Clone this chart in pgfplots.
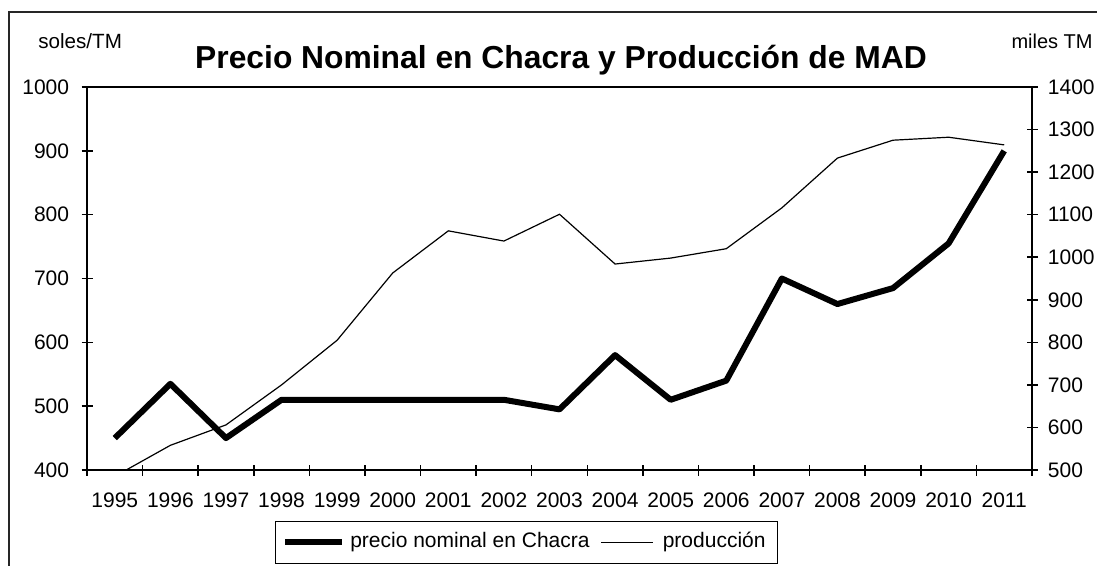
\documentclass[border=0pt]{standalone}
\usepackage{pgfplots}
\pgfplotsset{compat=1.18}
\usepackage{fontspec}
\setmainfont{Liberation Sans}

\pgfplotsset{
  legA/.style={legend image code/.code={\draw[##1] (0pt,0pt) -- (28.5pt,0pt); \path (31pt,0pt);}},
  legB/.style={legend image code/.code={\draw[##1] (0pt,0pt) -- (26pt,0pt); \path (-5.5pt,0pt) (30.5pt,0pt);}},
}

\pgfplotstableread{
x price prod
0 450 485
1 535 558
2 450 606
3 510 700
4 510 805
5 510 963
6 510 1062
7 510 1038
8 495 1101
9 580 984
10 510 998
11 540 1020
12 700 1116
13 660 1233
14 685 1275
15 755 1282
16 900 1264
}\datatable

\begin{document}
\begin{tikzpicture}
\useasboundingbox (0pt,0pt) rectangle (548.5pt,-283pt);
\draw[line width=1pt, black!85] (4.5pt,-400pt) -- (4.5pt,-6pt) -- (600pt,-6pt);
\node[font=\fontsize{15.9}{18}\selectfont\bfseries, inner sep=0pt] at (280.5pt,-30pt) {Precio Nominal en Chacra y Producción de MAD};
\node[font=\fontsize{10.3}{12}\selectfont, anchor=west, inner sep=0pt] at (19pt,-20.5pt) {soles/TM};
\node[font=\fontsize{10}{12}\selectfont, anchor=east, inner sep=0pt] at (546.5pt,-20.5pt) {miles TM};

\begin{axis}[
  scale only axis, width=472.5pt, height=191.5pt,
  at={(43.5pt,-235pt)}, anchor=south west,
  xmin=-0.5, xmax=16.5, ymin=400, ymax=1000,
  xtick={-0.5,0.5,...,16.5},
  x tick label as interval,
  xticklabels={1995,1996,1997,1998,1999,2000,2001,2002,2003,2004,2005,2006,2007,2008,2009,2010,2011},
  ytick={400,500,...,1000},
  ytick pos=left, xtick pos=bottom,
  tick align=center,
  major tick length=5.5pt,
  tick style={black, line width=0.75pt},
  axis line style={black, line width=0.75pt},
  ticklabel style={font=\fontsize{10.5}{12}\selectfont},
  /pgf/number format/assume math mode=true,
  /pgf/number format/1000 sep={},
  yticklabel style={anchor=east, inner sep=0pt, xshift=-6pt},
  xticklabel style={anchor=north, inner sep=0pt, yshift=-8.5pt},
  legend columns=2,
  legend style={at={(0.465,-0.189)}, anchor=center, draw=black, line width=0.75pt,
    font=\fontsize{10.5}{12}\selectfont, inner xsep=3.5pt, inner ysep=5.25pt,
    nodes={inner sep=0pt, text height=8pt, text depth=2.5pt},
    /tikz/every even column/.append style={column sep=0pt},
    /tikz/every odd column/.append style={column sep=0pt}},
]
\addplot[black, line width=3pt, line join=round, legA]
  table[x=x, y=price] {\datatable};
\addlegendentry{precio nominal en Chacra}
\addlegendimage{black, line width=0.6pt, legB}
\addlegendentry{producción\hspace*{2.5pt}}
\end{axis}

\begin{axis}[
  scale only axis, width=472.5pt, height=191.5pt,
  at={(43.5pt,-235pt)}, anchor=south west,
  xmin=-0.5, xmax=16.5, ymin=500, ymax=1400,
  axis x line=none,
  axis y line*=right,
  ytick={500,600,...,1400},
  tick align=center,
  major tick length=5.5pt,
  tick style={black, line width=0.75pt},
  axis line style={black, line width=0.75pt},
  ticklabel style={font=\fontsize{10.5}{12}\selectfont},
  /pgf/number format/assume math mode=true,
  /pgf/number format/1000 sep={},
  yticklabel style={anchor=west, inner sep=0pt, xshift=5pt},
]
\addplot[black, line width=0.6pt] table[x=x, y=prod] {\datatable};
\end{axis}
\end{tikzpicture}
\end{document}
